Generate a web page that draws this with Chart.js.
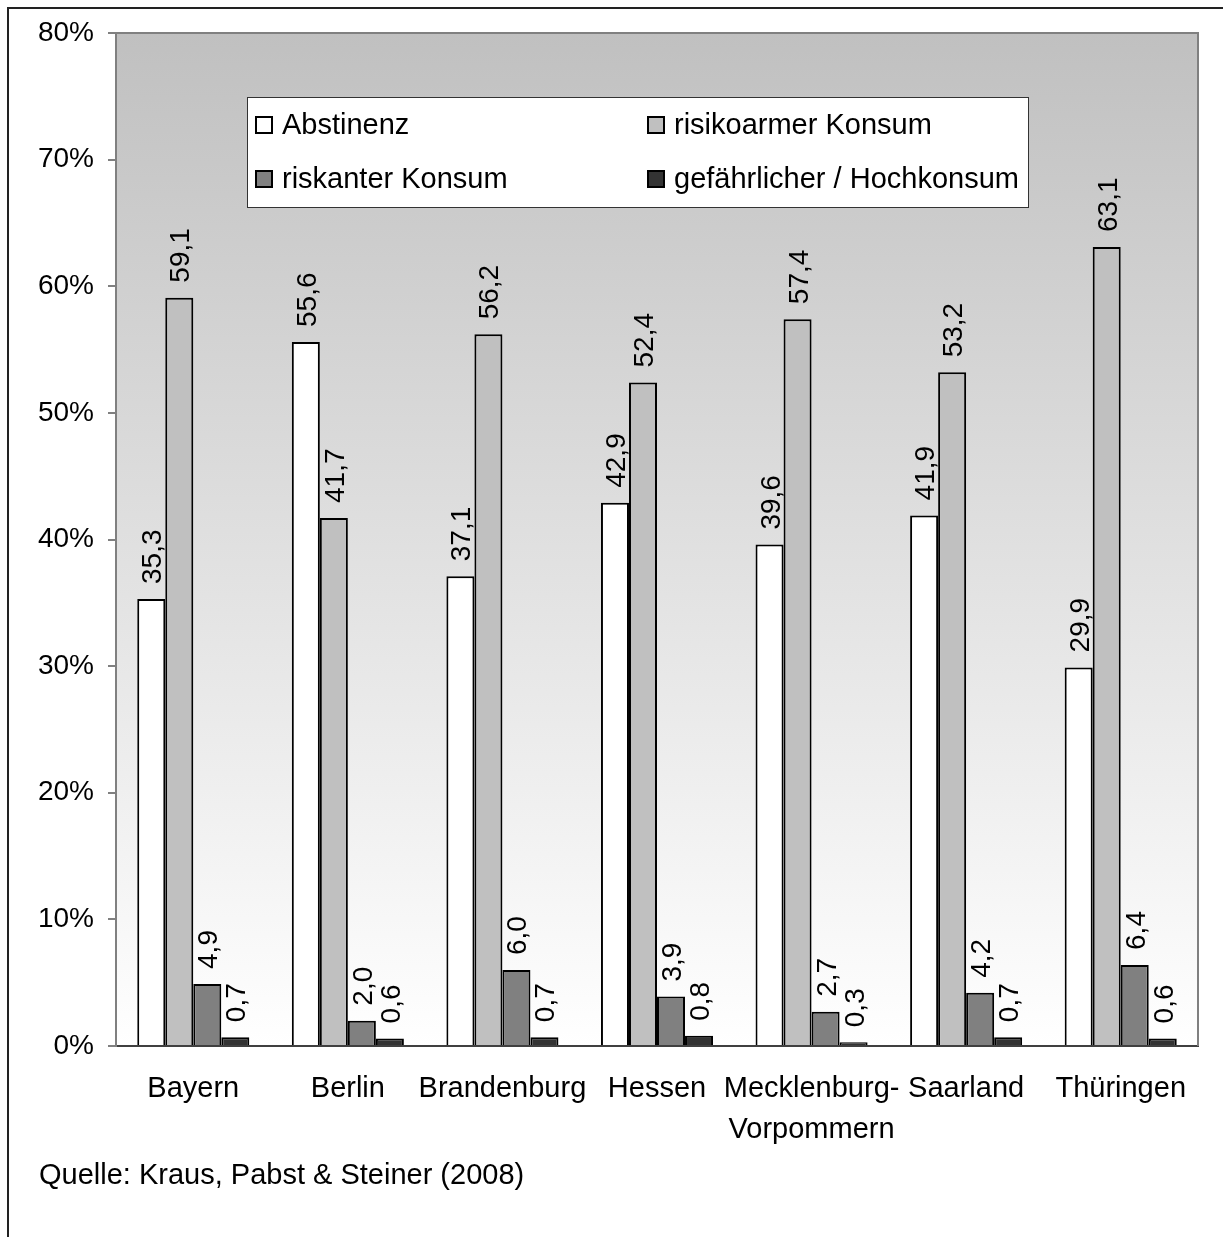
<!DOCTYPE html>
<html>
<head>
<meta charset="utf-8">
<script src="https://cdn.jsdelivr.net/npm/chart.js@4/dist/chart.umd.min.js"></script>
<style>
html,body{margin:0;padding:0;background:#fff;}
#wrap{position:relative;width:1223px;height:1237px;}
</style>
</head>
<body>
<div id="wrap"><canvas id="c" width="1223" height="1237"></canvas></div>
<script>
const categories = ['Bayern', 'Berlin', 'Brandenburg', 'Hessen', ['Mecklenburg-', 'Vorpommern'], 'Saarland', 'Thüringen'];
const seriesNames = ['Abstinenz', 'risikoarmer Konsum', 'riskanter Konsum', 'gefährlicher / Hochkonsum'];
const abstinenz = [35.3, 55.6, 37.1, 42.9, 39.6, 41.9, 29.9];
const risikoarm = [59.1, 41.7, 56.2, 52.4, 57.4, 53.2, 63.1];
const riskant = [4.9, 2.0, 6.0, 3.9, 2.7, 4.2, 6.4];
const gefaehrlich = [0.7, 0.6, 0.7, 0.8, 0.3, 0.7, 0.6];
const yTicks = [0, 10, 20, 30, 40, 50, 60, 70, 80];
const sourceText = 'Quelle: Kraus, Pabst & Steiner (2008)';

const colors = ['#ffffff', '#c0c0c0', '#808080', '#333333'];
const FONT = '"Liberation Sans", Arial, sans-serif';

const bgPlugin = {
  id: 'bg',
  beforeDraw(chart) {
    const {ctx, chartArea: a} = chart;
    ctx.save();
    const g = ctx.createLinearGradient(0, a.top, 0, a.bottom);
    g.addColorStop(0, '#c0c0c0');
    g.addColorStop(1, '#ffffff');
    ctx.fillStyle = g;
    ctx.fillRect(a.left, a.top, a.right - a.left, a.bottom - a.top);
    ctx.strokeStyle = '#222';
    ctx.lineWidth = 2;
    ctx.beginPath();
    ctx.moveTo(8, 1237);
    ctx.lineTo(8, 8);
    ctx.lineTo(1223, 8);
    ctx.stroke();
    ctx.restore();
  },
  afterDraw(chart) {
    const {ctx, chartArea: a} = chart;
    ctx.save();
    ctx.strokeStyle = '#808080';
    ctx.lineWidth = 2;
    ctx.beginPath();
    ctx.moveTo(a.left, a.top);
    ctx.lineTo(a.right, a.top);
    ctx.lineTo(a.right, a.bottom);
    ctx.stroke();
    // legend
    const lx = 247, ly = 97, lw = 781, lh = 110;
    ctx.fillStyle = '#ffffff';
    ctx.fillRect(lx, ly, lw, lh);
    ctx.strokeStyle = '#333';
    ctx.lineWidth = 1;
    ctx.strokeRect(lx + 0.5, ly + 0.5, lw, lh);
    const pos = [[256, 125], [648, 125], [256, 179], [648, 179]];
    ctx.font = '29px ' + FONT;
    ctx.textBaseline = 'middle';
    ctx.textAlign = 'left';
    chart.data.datasets.forEach((ds, i) => {
      const [x, y] = pos[i];
      ctx.fillStyle = ds.backgroundColor;
      ctx.fillRect(x, y - 8, 16, 16);
      ctx.strokeStyle = '#000';
      ctx.lineWidth = 2;
      ctx.strokeRect(x, y - 8, 16, 16);
      ctx.fillStyle = '#000';
      ctx.fillText(ds.label, x + 26, y + 1);
    });
    // source
    ctx.font = '29px ' + FONT;
    ctx.fillStyle = '#000';
    ctx.textBaseline = 'alphabetic';
    ctx.fillText(sourceText, 39, 1184);
    ctx.restore();
  },
  afterDatasetsDraw(chart) {
    const {ctx} = chart;
    ctx.save();
    ctx.font = '28px ' + FONT;
    ctx.fillStyle = '#000';
    ctx.textAlign = 'left';
    ctx.textBaseline = 'alphabetic';
    chart.data.datasets.forEach((ds, i) => {
      const meta = chart.getDatasetMeta(i);
      meta.data.forEach((el, j) => {
        const v = ds.data[j];
        const txt = v.toFixed(1).replace('.', ',');
        ctx.save();
        ctx.translate(el.x + 10, el.y - 15);
        ctx.rotate(-Math.PI / 2);
        ctx.fillText(txt, 0, 0);
        ctx.restore();
      });
    });
    ctx.restore();
  }
};

new Chart(document.getElementById('c'), {
  type: 'bar',
  data: {
    labels: categories,
    datasets: [abstinenz, risikoarm, riskant, gefaehrlich].map((d, i) => ({
      label: seriesNames[i],
      data: d,
      backgroundColor: colors[i],
      borderColor: '#000',
      borderWidth: 2,
      borderSkipped: 'bottom',
      barPercentage: 1.0,
      categoryPercentage: 0.725
    }))
  },
  options: {
    responsive: false,
    animation: false,
    devicePixelRatio: 1,
    layout: {padding: {top: 33, right: 25, left: 0, bottom: 0}},
    plugins: {legend: {display: false}, tooltip: {enabled: false}},
    scales: {
      x: {
        grid: {display: false, drawTicks: false},
        border: {display: true, color: '#404040', width: 2},
        ticks: {color: '#000', font: {size: 29, family: FONT, lineHeight: 1.42}, padding: 22, maxRotation: 0, autoSkip: false},
        afterFit(s) { s.height = 191; }
      },
      y: {
        min: 0, max: 80,
        afterBuildTicks(s) { s.ticks = yTicks.map(v => ({value: v})); },
        grid: {display: true, drawOnChartArea: false, drawTicks: true, tickLength: 8, color: '#808080', lineWidth: 2},
        border: {display: true, color: '#808080', width: 2},
        ticks: {color: '#000', font: {size: 28, family: FONT}, padding: 14, callback: v => v + '%'},
        afterFit(s) { s.width = 116; }
      }
    }
  },
  plugins: [bgPlugin]
});
</script>
</body>
</html>
